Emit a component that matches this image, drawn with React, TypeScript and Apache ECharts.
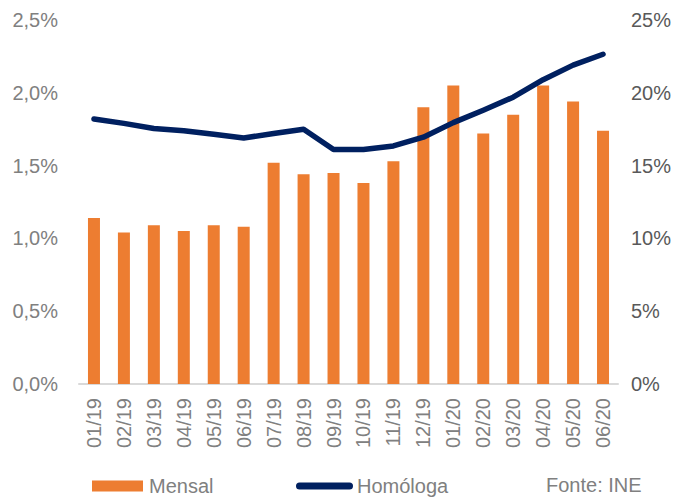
import React, { useEffect, useRef } from "react";
import * as echarts from "echarts";

const categories = [
  "01/19", "02/19", "03/19", "04/19", "05/19", "06/19",
  "07/19", "08/19", "09/19", "10/19", "11/19", "12/19",
  "01/20", "02/20", "03/20", "04/20", "05/20", "06/20",
];
const mensal = [1.14, 1.04, 1.09, 1.05, 1.09, 1.08, 1.52, 1.44, 1.45, 1.38, 1.53, 1.9, 2.05, 1.72, 1.85, 2.05, 1.94, 1.74];
const homologa = [18.2, 17.9, 17.55, 17.4, 17.15, 16.9, 17.2, 17.5, 16.1, 16.1, 16.35, 16.95, 17.95, 18.8, 19.7, 20.9, 21.9, 22.65];
const sourceText = "Fonte: INE";

const FONT = "'Liberation Sans', Arial, Helvetica, sans-serif";
const ORANGE = "#ED7D31";
const NAVY = "#002060";
const GREY = "#808080";

export default function App() {
  const ref = useRef<HTMLDivElement>(null);
  useEffect(() => {
    if (!ref.current) return;
    const chart = echarts.init(ref.current, undefined, { renderer: "svg" });
    chart.setOption({
      animation: false,
      textStyle: { fontFamily: FONT },
      grid: { left: 79, right: 70, top: 20, bottom: 114, containLabel: false },
      title: {
        text: sourceText,
        left: 546,
        top: 475,
        padding: 0,
        textStyle: { fontFamily: FONT, fontSize: 20, fontWeight: "normal", color: GREY },
      },
      legend: [
        {
          data: [{ name: "Mensal", icon: "rect" }],
          left: 92,
          top: 476,
          padding: 0,
          itemWidth: 51,
          itemHeight: 11,
          textStyle: { fontFamily: FONT, fontSize: 20, color: GREY, padding: [0, 0, 0, 1] },
        },
        {
          data: [{ name: "Homóloga", icon: "path://M3.5,0 H53.5 A3.5,3.5 0 0 1 53.5,7 H3.5 A3.5,3.5 0 0 1 3.5,0 Z" }],
          left: 296,
          top: 476,
          padding: 0,
          itemWidth: 57,
          itemHeight: 7,
          textStyle: { fontFamily: FONT, fontSize: 20, color: GREY, padding: [0, 0, 0, -1] },
        },
      ],
      xAxis: {
        type: "category",
        data: categories,
        axisLine: { show: true, lineStyle: { color: "#d9d9d9", width: 2 } },
        axisTick: { show: false },
        axisLabel: {
          rotate: 90,
          margin: 14,
          fontSize: 20,
          color: GREY,
          fontFamily: FONT,
          interval: 0,
        },
      },
      yAxis: [
        {
          type: "value",
          min: 0,
          max: 2.5,
          interval: 0.5,
          splitLine: { show: false },
          axisLine: { show: false },
          axisTick: { show: false },
          axisLabel: {
            margin: 21,
            fontSize: 20,
            color: GREY,
            fontFamily: FONT,
            formatter: (v: number) => v.toFixed(1).replace(".", ",") + "%",
          },
        },
        {
          type: "value",
          min: 0,
          max: 25,
          interval: 5,
          position: "right",
          splitLine: { show: false },
          axisLine: { show: false },
          axisTick: { show: false },
          axisLabel: {
            margin: 13,
            fontSize: 20,
            color: "#595959",
            fontFamily: FONT,
            formatter: (v: number) => v + "%",
          },
        },
      ],
      series: [
        {
          name: "Mensal",
          type: "bar",
          data: mensal,
          yAxisIndex: 0,
          barWidth: 12,
          itemStyle: { color: ORANGE },
        },
        {
          name: "Homóloga",
          type: "line",
          data: homologa,
          yAxisIndex: 1,
          symbol: "none",
          showSymbol: false,
          itemStyle: { color: NAVY },
          lineStyle: { color: NAVY, width: 5.5, cap: "round", join: "round" },
        },
      ],
    });
    return () => chart.dispose();
  }, []);
  return (
    <div
      ref={ref}
      style={{ position: "fixed", left: 0, top: 0, width: 688, height: 498, background: "#fff" }}
    />
  );
}
